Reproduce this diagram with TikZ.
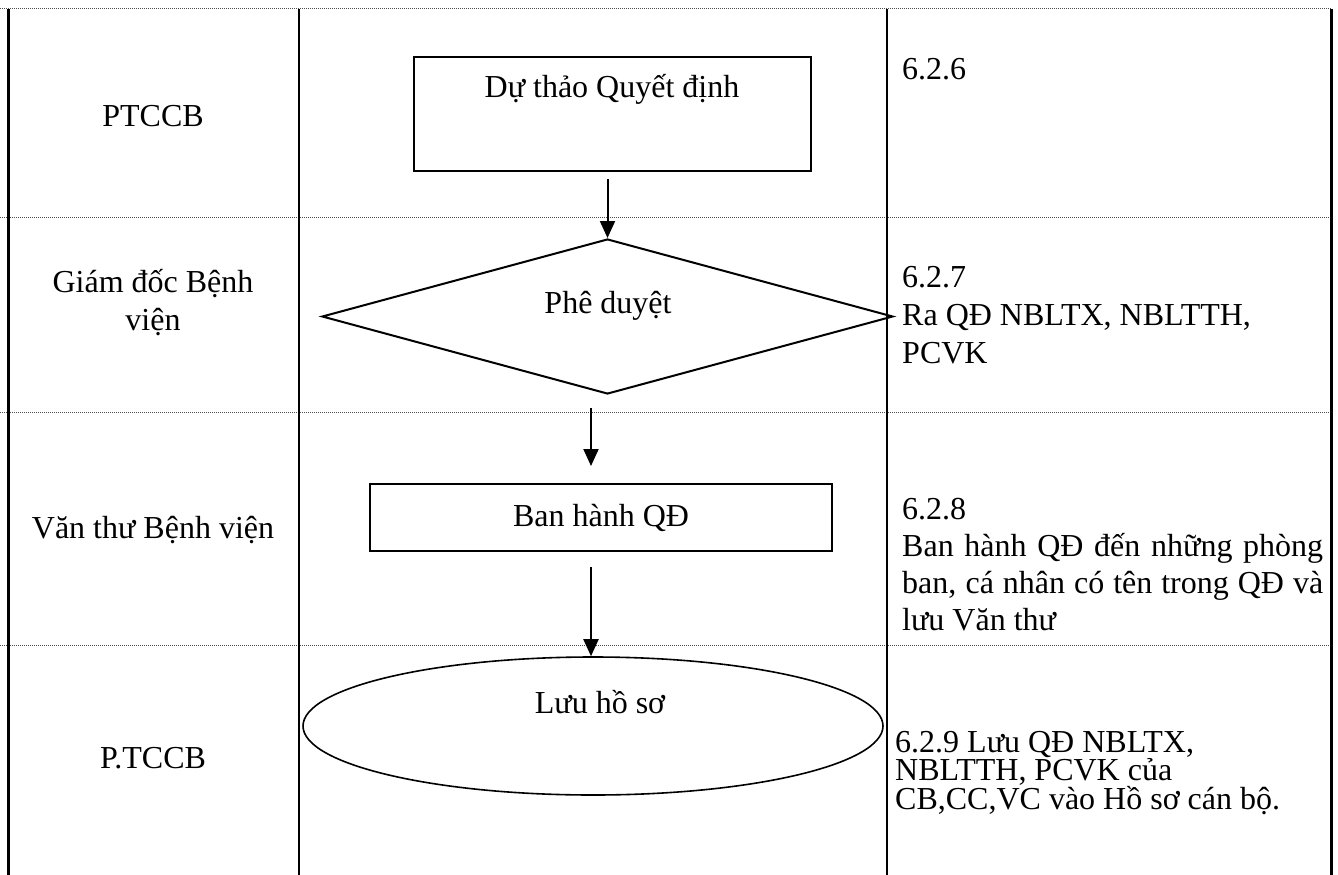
\documentclass[tikz,border=0pt]{standalone}
\usepackage{fontspec}
\setmainfont{Liberation Serif}
\usetikzlibrary{shapes.geometric,arrows.meta,calc}
\begin{document}
\begin{tikzpicture}[x=1pt,y=-1pt,
  every node/.style={font=\fontsize{32}{37}\selectfont, inner sep=0pt},
  frameline/.style={line width=2.6pt},
  sepline/.style={line width=1pt, dash pattern=on 1pt off 1pt, black!70},
  shapebox/.style={draw, line width=2pt, rectangle},
  arr/.style={line width=2pt, -{Triangle[length=17pt,width=15pt]}},
  lane/.style={anchor=base, align=center},
  note/.style={anchor=base west, align=left},
]
\useasboundingbox (0,0) rectangle (1338,875);
% row separators
\draw[sepline] (0,9) -- (1332,9);
\draw[sepline] (0,217) -- (1332,217);
\draw[sepline] (0,412) -- (1332,412);
\draw[sepline] (0,645) -- (1332,645);
% column lines
\draw[frameline] (8.7,9) -- (8.7,875);
\draw[frameline] (299,9) -- (299,875);
\draw[frameline] (887,9) -- (887,875);
\draw[frameline] (1331.3,9) -- (1331.3,875);

% lane labels (base = baseline of last line)
\node[lane] (lane1) at (153,126) {PTCCB};
\node[lane, font=\fontsize{32}{38}\selectfont] (lane2) at (153,330) {Giám đốc Bệnh\\viện};
\node[lane] (lane3) at (153,538) {Văn thư Bệnh viện};
\node[lane] (lane4) at (153,768) {P.TCCB};

% flow shapes
\node[shapebox, minimum width=397pt, minimum height=114pt] (draft) at (612.5,114) {};
\node[anchor=base] (drafttxt) at (612,97) {Dự thảo Quyết định};
\node[draw, diamond, line width=2pt, minimum width=571pt, minimum height=155pt] (approve) at (607.5,316.5) {};
\node[anchor=base] (approvetxt) at (608,313) {Phê duyệt};
\node[shapebox, minimum width=462pt, minimum height=67pt] (issue) at (601,517.5) {Ban hành QĐ};
\node[draw, ellipse, line width=1.6pt, minimum width=580pt, minimum height=138pt] (store) at (593,726) {};
\node[anchor=base] (storetxt) at (600,713) {Lưu hồ sơ};

% connectors
\draw[arr] ($(approve.north)+(0,-59)$) -- (approve.north);
\coordinate (a2s) at (591,408);
\draw[arr] (a2s) -- ($(a2s |- issue.north)+(0,-17)$);
\coordinate (a3s) at (591,567);
\draw[arr] (a3s) -- (a3s |- store.north);

% notes (base = baseline of last line)
\node[note] (n1) at (902,79) {6.2.6};
\node[note, font=\fontsize{32}{38}\selectfont] (n2) at (902,363) {6.2.7\\Ra QĐ NBLTX, NBLTTH,\\PCVK};
\node[note, font=\fontsize{32}{36.7}\selectfont] (n3) at (902,630) {6.2.8\\\makebox[421pt][s]{Ban hành QĐ đến những phòng}\\\makebox[421pt][s]{ban, cá nhân có tên trong QĐ và}\\lưu Văn thư};
\node[note, font=\fontsize{32}{28.5}\selectfont] (n4) at (895,809) {6.2.9 Lưu QĐ NBLTX,\\NBLTTH, PCVK của\\CB,CC,VC vào Hồ sơ cán bộ.};
\end{tikzpicture}
\end{document}
